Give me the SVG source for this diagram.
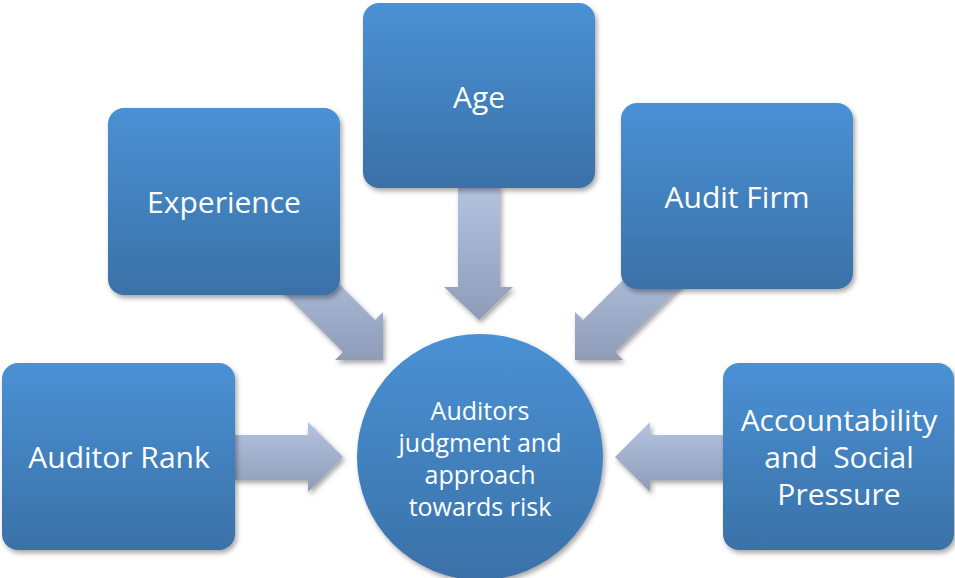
<svg xmlns="http://www.w3.org/2000/svg" width="955" height="578" viewBox="0 0 955 578">
  <defs>
    <linearGradient id="boxGrad" x1="0" y1="0" x2="0" y2="1">
      <stop offset="0" stop-color="#4A91D5"/>
      <stop offset="1" stop-color="#3A71A7"/>
    </linearGradient>
    <linearGradient id="arrowGrad" x1="0" y1="0" x2="0" y2="1">
      <stop offset="0" stop-color="#B4C3E0"/>
      <stop offset="1" stop-color="#8E9CB8"/>
    </linearGradient>
    <filter id="shadow" x="-10%" y="-10%" width="130%" height="130%">
      <feDropShadow dx="2" dy="3" stdDeviation="2.5" flood-color="#000" flood-opacity="0.35"/>
    </filter>
  </defs>
  <style>
    .box { fill: url(#boxGrad); filter: url(#shadow); }
    .arrow { fill: url(#arrowGrad); filter: url(#shadow); }
    .lbl { font-family: "Open Sans", "Noto Sans", sans-serif; font-size: 30px; fill: #FFFFFF; text-anchor: middle; white-space: pre; }
    .clbl { font-family: "Open Sans", "Noto Sans", sans-serif; font-size: 25px; fill: #FFFFFF; text-anchor: middle; }
  </style>
  <rect width="955" height="578" fill="#FFFFFF"/>

  <g id="connectors">
    <polygon class="arrow" points="458,186 500,186 500,287 513,287 479,320 444,287 458,287"/>
    <polygon class="arrow" points="273,282 305,250 375,320 383,312 383,360 335,360 343,352"/>
    <polygon class="arrow" points="685,282 653,250 583,320 575,312 575,360 623,360 615,352"/>
    <polygon class="arrow" points="233,435 308,435 308,422 343,457 308,492 308,480 233,480"/>
    <polygon class="arrow" points="725,435 650,435 650,422 615,457 650,492 650,480 725,480"/>
  </g>

  <g id="node-age">
    <rect class="box" x="363" y="3" width="232" height="185" rx="16"/>
    <text class="lbl" x="479" y="108">Age</text>
  </g>
  <g id="node-experience">
    <rect class="box" x="108" y="108" width="232" height="187" rx="16"/>
    <text class="lbl" x="224" y="213">Experience</text>
  </g>
  <g id="node-auditfirm">
    <rect class="box" x="621" y="103" width="232" height="186" rx="16"/>
    <text class="lbl" x="737" y="208">Audit Firm</text>
  </g>
  <g id="node-auditorrank">
    <rect class="box" x="2" y="363" width="233" height="187" rx="16"/>
    <text class="lbl" x="119" y="468">Auditor Rank</text>
  </g>
  <g id="node-accountability">
    <rect class="box" x="723" y="363" width="231" height="187" rx="16"/>
    <text class="lbl" x="839" y="431">Accountability</text>
    <text class="lbl" x="839" y="468">and  Social</text>
    <text class="lbl" x="839" y="505">Pressure</text>
  </g>
  <g id="node-center">
    <circle class="box" cx="480" cy="457" r="123"/>
    <text class="clbl" x="480" y="420">Auditors</text>
    <text class="clbl" x="480" y="452">judgment and</text>
    <text class="clbl" x="480" y="484">approach</text>
    <text class="clbl" x="480" y="516">towards risk</text>
  </g>
</svg>
